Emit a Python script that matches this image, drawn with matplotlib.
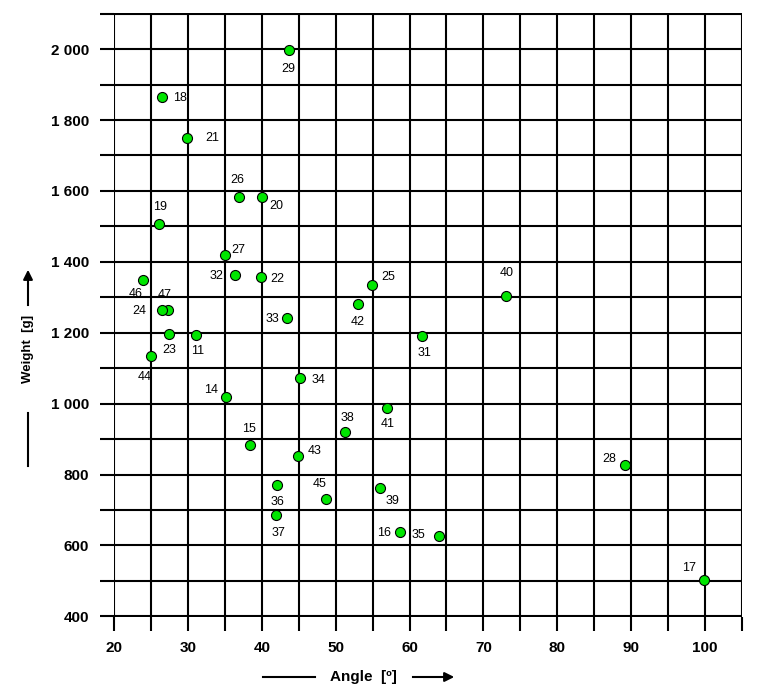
import matplotlib.pyplot as plt
from matplotlib.ticker import MultipleLocator, FuncFormatter

plt.rcParams['font.family'] = ['Liberation Sans', 'DejaVu Sans']

# sample number, angle [deg], weight [g]
ids = [29, 18, 21, 26, 20, 19, 27, 32, 22, 46, 47, 24, 33, 23, 11, 44, 34, 14,
       41, 38, 15, 43, 36, 45, 39, 37, 16, 35, 25, 42, 31, 40, 28, 17]
angle = [43.7, 26.4, 29.9, 36.9, 40.0, 26.1, 35.0, 36.3, 39.9, 23.9, 27.2, 26.4,
         43.4, 27.4, 31.1, 25.0, 45.1, 35.1, 57.0, 51.3, 38.4, 44.9, 42.1, 48.7,
         56.0, 41.9, 58.7, 64.0, 54.9, 53.0, 61.7, 73.1, 89.2, 99.9]
weight = [1997, 1865, 1748, 1584, 1582, 1506, 1419, 1363, 1356, 1350, 1264, 1264,
          1241, 1196, 1193, 1135, 1073, 1019, 989, 920, 882, 851, 771, 730,
          761, 685, 637, 626, 1336, 1280, 1190, 1303, 827, 502]

# label offsets in pixels (dx right, dy down) from the point
label_off = {29: (-1, 19), 18: (18, 1), 21: (25, 0), 26: (-2, -17), 20: (14, 9),
             19: (1, -17), 27: (13, -5), 32: (-18, 1), 22: (16, 2), 46: (-7, 14),
             47: (-3, -15), 24: (-22, 1), 33: (-15, 1), 23: (0, 16), 11: (1, 16),
             44: (-7, 21), 34: (19, 2), 14: (-15, -7), 41: (0, 16), 38: (2, -14),
             15: (-1, -16), 43: (17, -5), 36: (0, 17), 45: (-7, -15), 39: (12, 13),
             37: (3, 18), 16: (-16, 1), 35: (-21, -1), 25: (16, -8), 42: (0, 18),
             31: (2, 17), 40: (0, -23), 28: (-16, -6), 17: (-15, -12)}

W, H = 767, 699
fig = plt.figure(figsize=(W / 100, H / 100), dpi=100)
ax = fig.add_axes([114 / W, 1 - 617 / H, (742 - 114) / W, (617 - 13) / H])

ax.scatter(angle, weight, s=52, color='#00E600', edgecolors='black',
           linewidths=0.8, zorder=3, clip_on=False)
for i, x, y in zip(ids, angle, weight):
    dx, dy = label_off[i]
    ax.annotate(str(i), (x, y), xytext=(dx * 0.72, -dy * 0.72),
                textcoords='offset points', ha='center', va='center',
                fontsize=9, zorder=4)

ax.set_xlim(19.95, 105.05)
ax.set_ylim(398, 2102)
ax.xaxis.set_major_locator(MultipleLocator(5))
ax.yaxis.set_major_locator(MultipleLocator(100))
ax.xaxis.set_major_formatter(FuncFormatter(
    lambda v, p: f'{int(round(v))}' if round(v) % 10 == 0 and v < 104 else ''))
ax.yaxis.set_major_formatter(FuncFormatter(
    lambda v, p: f'{int(round(v)):,}'.replace(',', ' ') if round(v) % 200 == 0 and v < 2050 else ''))

ax.grid(True, color='black', linewidth=1.5)
ax.set_axisbelow(True)
for s in ax.spines.values():
    s.set_visible(False)
ax.tick_params(axis='both', length=10, width=1.5, color='black', direction='out',
               labelsize=11)
ax.tick_params(axis='x', pad=7)
ax.tick_params(axis='y', pad=8)
for t in ax.get_xticklabels() + ax.get_yticklabels():
    t.set_fontweight('bold')

# axis titles with line and arrow
fig.text(363 / W, 1 - 677 / H, 'Angle  [º]', ha='center', va='center',
         fontsize=11, fontweight='bold')
fig.add_artist(plt.Line2D([263 / W, 315 / W], [1 - 677 / H, 1 - 677 / H],
                          color='black', linewidth=1.5))
fig.add_artist(plt.Line2D([413 / W, 440 / W], [1 - 677 / H, 1 - 677 / H],
                          color='black', linewidth=1.5))
ax.annotate('', xy=(457 / W, 1 - 677 / H), xytext=(438 / W, 1 - 677 / H),
            xycoords='figure fraction',
            arrowprops=dict(arrowstyle='-|>', color='black', lw=1.5,
                            mutation_scale=14))

fig.text(28 / W, 1 - 349 / H, 'Weight  [g]', ha='center', va='center',
         rotation=90, fontsize=9.5, fontweight='bold')
fig.add_artist(plt.Line2D([28 / W, 28 / W], [1 - 413 / H, 1 - 466 / H],
                          color='black', linewidth=1.5))
fig.add_artist(plt.Line2D([28 / W, 28 / W], [1 - 305 / H, 1 - 285 / H],
                          color='black', linewidth=1.5))
ax.annotate('', xy=(28 / W, 1 - 267 / H), xytext=(28 / W, 1 - 287 / H),
            xycoords='figure fraction',
            arrowprops=dict(arrowstyle='-|>', color='black', lw=1.5,
                            mutation_scale=14))

fig.savefig('out.png', dpi=100)
